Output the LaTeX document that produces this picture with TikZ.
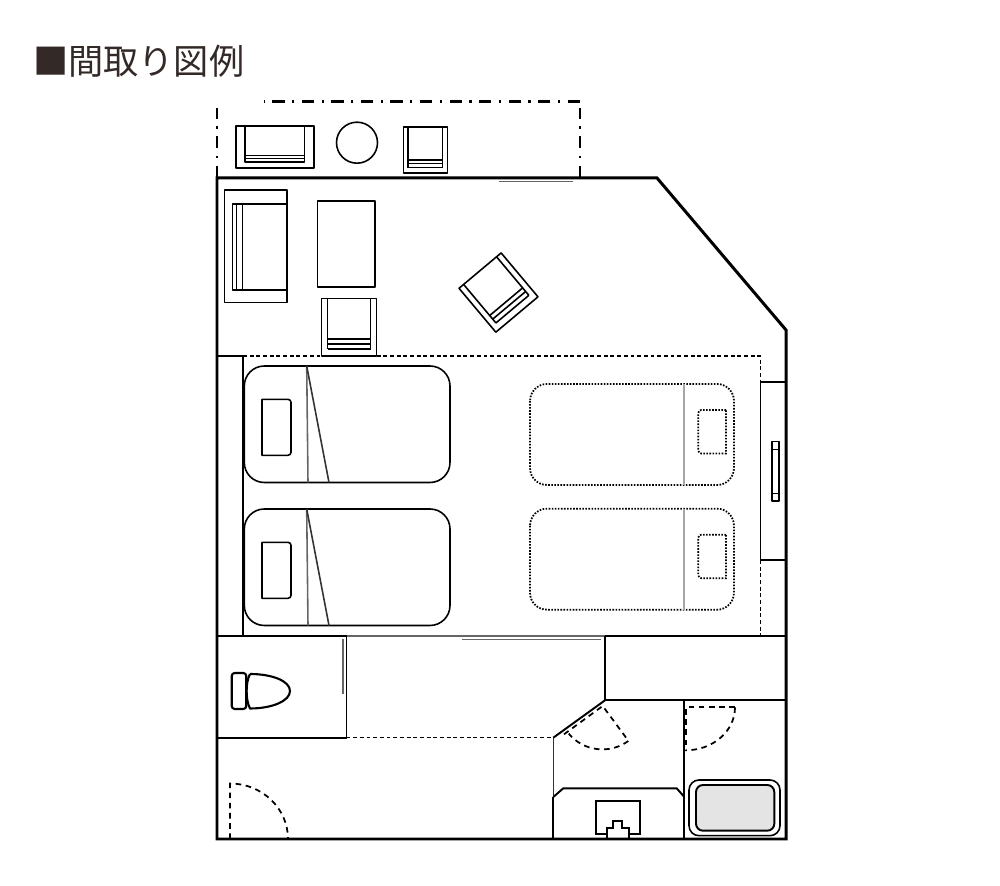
\documentclass[tikz,border=0pt]{standalone}
\usepackage{fontspec}
\setmainfont{Noto Sans CJK JP}
\usepackage{xcolor}
\definecolor{titlecolor}{HTML}{332A28}
\definecolor{tubcolor}{HTML}{E4E4E4}
\tikzset{
 wall/.style={black, line width=.85pt, line join=miter},
 partition/.style={black, line width=.55pt},
 furniture/.style={black, line width=.45pt, line join=round},
 thinline/.style={black!60, line width=.45pt},
 hidden/.style={black, line width=.3pt, dash pattern=on 1.1pt off .8pt},
 swing/.style={black, line width=.5pt, dash pattern=on 1.6pt off 1.3pt},
 dotbed/.style={black, line width=.5pt, dash pattern=on .45pt off .42pt},
 balcony/.style={black, line width=.7pt, dash pattern=on 3.5pt off 2.15pt on .6pt off 2.15pt},
 chair/.pic={
  \draw[furniture] (0,0) rectangle (55,57.3);
  \draw[furniture] (6,0) -- (6,50.3) (49,0) -- (49,50.3);
  \draw[furniture] (6,40.6) -- (49,40.6) (6,45.3) -- (49,45.3) (6,50.3) -- (49,50.3);
 }
}
\begin{document}
\begin{tikzpicture}[x=.01cm,y=-.01cm]
\useasboundingbox (0,0) rectangle (1000,886);
\node[anchor=west, inner sep=0, text=titlecolor, font=\fontsize{10pt}{12pt}\selectfont] (title) at (32.5,61) {■間取り図例};

% balcony
\draw[balcony] (217,178) -- (217,108);
\draw[balcony] (580,178) -- (580,108);
\draw[balcony] (580,101.7) -- (264,101.7);
\draw[furniture] (236,126) rectangle (314,168);
\draw[furniture] (245,126) -- (245,162.3) -- (304.5,162.3) -- (304.5,126);
\draw[furniture] (245,155.7) -- (304.5,155.7) (245,158.7) -- (304.5,158.7);
\draw[furniture] (357,142.7) circle[radius=20.5];
\pic[scale=.8] at (403.3,127.3) {chair};

% outer walls
\draw[wall] (217,178) -- (657,178) -- (786,330) -- (786,839) -- (217,839) -- cycle;
\draw[thinline] (499,181.5) -- (573,181.5);

% sofa, table, chairs
\draw[furniture] (287,190) -- (224.3,190) -- (224.3,302.7) -- (287,302.7) -- cycle;
\draw[furniture] (287,204) -- (232.3,204) -- (232.3,290) -- (287,290);
\draw[furniture] (236.7,204) -- (236.7,290) (242.3,204) -- (242.3,290);
\draw[furniture] (317.7,201) rectangle (375,287.3);
\pic at (321.7,298.7) {chair};
\pic[rotate=40] at (459,288.3) {chair};

% bedroom
\draw[partition] (217,356) -- (243,356) -- (243,636);
\draw[hidden] (243,356) -- (760.5,356) -- (760.5,382);
\draw[hidden] (760.5,560) -- (760.5,636);
\draw[partition] (786,381.7) -- (760.5,381.7) -- (760.5,560) -- (786,560);
\draw[furniture] (771.7,441.7) rectangle (778.7,501);
\draw[furniture] (771.7,449.3) -- (778.7,449.3) (771.7,493.3) -- (778.7,493.3);
\foreach \y in {366,509} {
 \draw[furniture, rounded corners=.2cm] (244.3,\y) rectangle (450,{\y+116.5});
 \draw[furniture] (262,{\y+33.3}) [rounded corners=.03cm] -- (291,{\y+33.3}) -- (291,{\y+89.3}) [sharp corners] -- (262,{\y+89.3}) -- cycle;
 \draw[thinline] (306.7,\y) -- (308,{\y+116.5});
 \draw[thinline, black!80] (306.7,\y) -- (329,{\y+116.5});
}
\foreach \y in {384,508.7} {
 \draw[dotbed, rounded corners=.17cm] (530,\y) rectangle (734,{\y+101});
 \draw[thinline, black!35] (684,\y) -- (684,{\y+101});
 \draw[dotbed] (726,{\y+26}) [rounded corners=.03cm] -- (698.3,{\y+26}) -- (698.3,{\y+69.5}) [sharp corners] -- (726,{\y+69.5}) -- cycle;
}

% middle walls
\draw[partition] (217,636) -- (346.5,636);
\draw[thinline] (346.5,636) -- (605,636);
\draw[partition] (605,636) -- (786,636);
\draw[thinline] (462,639.7) -- (600.7,639.7);
\draw[thinline] (343,639) -- (343,694);
\draw[partition] (346.5,636) -- (346.5,737.7) -- (217,737.7);
\draw[hidden] (346.5,737.7) -- (553.3,737.7);

% toilet
\draw[furniture, line width=.6pt, rounded corners=.03cm] (231.7,673) rectangle (246.3,709);
\draw[furniture, line width=.6pt] (250,674) .. controls (272,674) and (290,681) .. (290,691) .. controls (290,701) and (272,708.5) .. (250,708.5) .. controls (245.5,700) and (245.5,682) .. (250,674);

% entrance door
\draw[swing] (230,839) -- (230,783.5) arc[start angle=-90, end angle=0, x radius=58, y radius=55.5];

% bath and washroom walls
\draw[partition] (786,700.3) -- (605,700.3) -- (605,636);
\draw[partition] (605,700.3) -- (553.3,737.7);
\draw[thinline, black!80] (553.3,737.7) -- (553.3,797);
\draw[partition] (553.3,797) -- (553.3,839);
\draw[partition] (684.3,700.3) -- (684.3,839);

% door swings
\draw[swing] (564,734.3) -- (602.7,706) -- (628.3,740.7);
\draw[swing] (628.3,741) arc[start angle=54, end angle=140, radius=44];
\draw[swing] (735,707.3) -- (685.7,707.3) -- (685.7,750.3);
\draw[swing] (735,707.3) arc[start angle=0, end angle=90, x radius=49.3, y radius=43];

% basin
\draw[partition] (553.3,797) -- (563.3,788.3) -- (676.7,788.3) -- (684.3,797);
\draw[partition] (606.7,834) -- (595.7,834) -- (595.7,801) -- (640.3,801) -- (640.3,834) -- (629,834);
\draw[partition] (606.7,837.7) -- (606.7,828.3) -- (613.3,828.3) -- (613.3,821.3) -- (621.7,821.3) -- (621.7,828.3) -- (629,828.3) -- (629,837.7);

% tub
\draw[furniture, rounded corners=.1cm] (689,780) rectangle (780,835.7);
\draw[furniture, line width=.55pt, fill=tubcolor, rounded corners=.07cm] (696,785) rectangle (774.3,830.7);
\end{tikzpicture}
\end{document}
